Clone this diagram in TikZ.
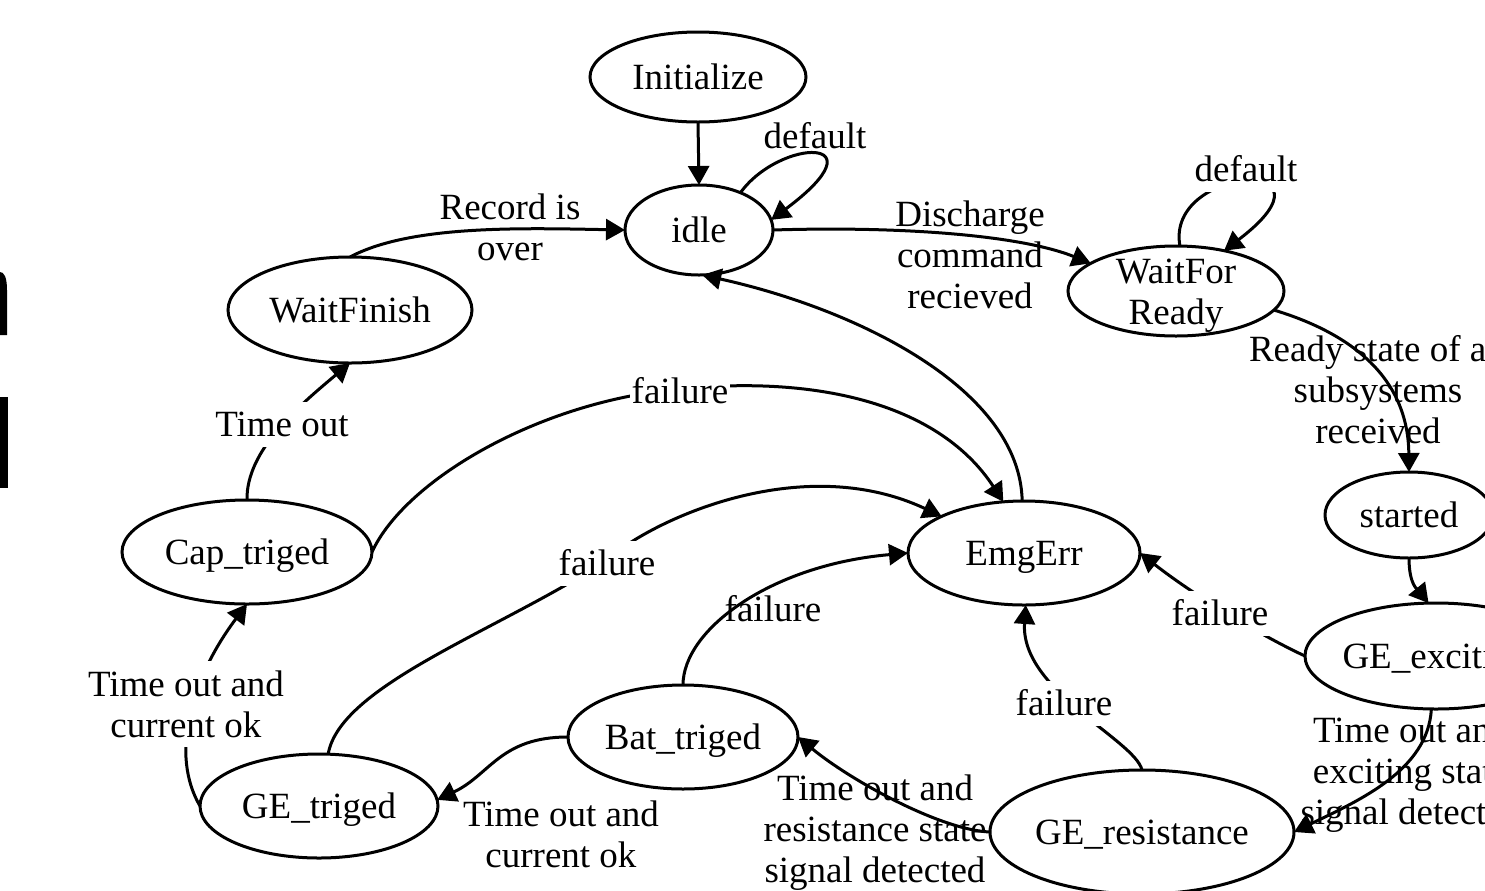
\documentclass[tikz,border=0pt]{standalone}
\usepackage{fontspec}
\setmainfont{Liberation Serif}
\usetikzlibrary{shapes.geometric,arrows.meta}
\newcommand\mystrut{\rule[-4pt]{0pt}{20.5pt}}
\begin{document}
\begin{tikzpicture}[x=0.5pt,y=-0.5pt,
  every node/.style={font=\fontsize{18.5}{20.5}\selectfont},
  st/.style={draw, ellipse, line width=1.5pt, inner sep=0pt, inner xsep=-2pt, outer sep=0pt, align=center},
  lab/.style={inner sep=1pt, align=center},
  lw/.style={lab, fill=white},
  ed/.style={line width=1.5pt, -{Triangle[length=9.5pt,width=10.5pt]}},
  ]
\useasboundingbox (0,0) rectangle (1485,890);
\clip (0,0) rectangle (1485,890);

% cropped glyph fragments at the left edge
\fill (0,272) .. controls (4,272) and (7,277) .. (7,290) -- (7,335) -- (0,335) -- cycle;
\fill (0,397) rectangle (8,488);

% states
\node[st, minimum width=108pt, minimum height=45pt] (init) at (698,77) {\mystrut Initialize};
\node[st, minimum width=74pt, minimum height=45pt] (idle) at (699,230) {\mystrut idle};
\node[st, minimum width=108pt, minimum height=45pt, inner ysep=-6pt] (wfr) at (1176,291) {\mystrut WaitFor\\Ready\mystrut};
\node[st, minimum width=122pt, minimum height=53pt] (wf) at (350,310) {\mystrut WaitFinish};
\node[st, minimum width=125pt, minimum height=52pt] (cap) at (247,552) {\mystrut Cap\_triged};
\node[st, minimum width=116pt, minimum height=52pt] (emg) at (1024,553) {\mystrut EmgErr};
\node[st, minimum width=84pt, minimum height=43pt] (started) at (1409,515) {\mystrut started};
\node[st, minimum width=131pt, minimum height=53pt] (gex) at (1436,656) {\mystrut GE\_exciting};
\node[st, minimum width=152pt, minimum height=62pt] (gres) at (1142,832) {\mystrut GE\_resistance};
\node[st, minimum width=115pt, minimum height=52pt] (bat) at (683,737) {\mystrut Bat\_triged};
\node[st, minimum width=119pt, minimum height=52pt] (get) at (319,806) {\mystrut GE\_triged};

% transitions
\draw[ed] (init.south) -- (idle.north);
\draw[ed] (idle.42) .. controls (780,138) and (885,135) .. (idle.8);
\draw[ed] (wf.north) .. controls (410,225) and (520,228) .. (idle.west);
\draw[ed] (idle.east) .. controls (900,226) and (1020,235) .. (wfr.162);
\draw[ed] (wfr.85) .. controls (1165,165) and (1350,155) .. (wfr.40);
\draw[ed] (wfr.-11) .. controls (1340,330) and (1408,370) .. (started.north);
\draw[ed] (started.south) .. controls (1409,585) and (1418,590) .. (gex.98);
\draw[ed] (gex.west) .. controls (1270,640) and (1200,600) .. (emg.east);
\draw[ed] (gex.-95) .. controls (1428,770) and (1360,800) .. (gres.east);
\draw[ed] (gres.north) .. controls (1135,740) and (1020,690) .. (emg.-88);
\draw[ed] (gres.west) .. controls (940,830) and (850,780) .. (bat.east);
\draw[ed] (bat.north) .. controls (683,630) and (770,565) .. (emg.west);
\draw[ed] (bat.west) .. controls (500,737) and (490,775) .. (get.3);
\draw[ed] (get.80) .. controls (340,685) and (500,630) .. (607,560) .. controls (650,521) and (800,450) .. (emg.156);
\draw[ed] (get.west) .. controls (170,755) and (190,680) .. (cap.south);
\draw[ed] (cap.north) .. controls (246,450) and (300,405) .. (wf.south);
\draw[ed] (cap.east) .. controls (405,480) and (540,401) .. (680,389) .. controls (820,375) and (940,405) .. (emg.112);
\draw[ed] (emg.92) .. controls (1020,390) and (860,310) .. (idle.-86);

% labels
\node[lab] (l2) at (815,136) {\mystrut default};
\node[lab] (l3) at (510,227) {\mystrut Record is\\over\mystrut};
\node[lab] (l4) at (970,255) {\mystrut Discharge\\command\\recieved\mystrut};
\node[lw] (l5) at (1246,169) {\mystrut default};
\node[lab] (l6) at (1378,390) {\mystrut Ready state of all\\subsystems\\received\mystrut};
\node[lw] (l8) at (1220,613) {\mystrut failure};
\node[lab] (l9) at (1411,771) {\mystrut Time out and\\exciting state\\signal detected\mystrut};
\node[lw] (l10) at (1064,703) {\mystrut failure};
\node[lab] (l11) at (875,829) {\mystrut Time out and\\resistance state\\signal detected\mystrut};
\node[lab] (l12) at (773,609) {\mystrut failure};
\node[lab] (l13) at (561,834) {\mystrut Time out and\\current ok\mystrut};
\node[lw] (l14) at (607,563) {\mystrut failure};
\node[lw] (l15) at (186,704) {\mystrut Time out and\\current ok\mystrut};
\node[lw] (l16) at (282,424) {\mystrut Time out};
\node[lw] (l17) at (680,391) {\mystrut failure};
\end{tikzpicture}
\end{document}
